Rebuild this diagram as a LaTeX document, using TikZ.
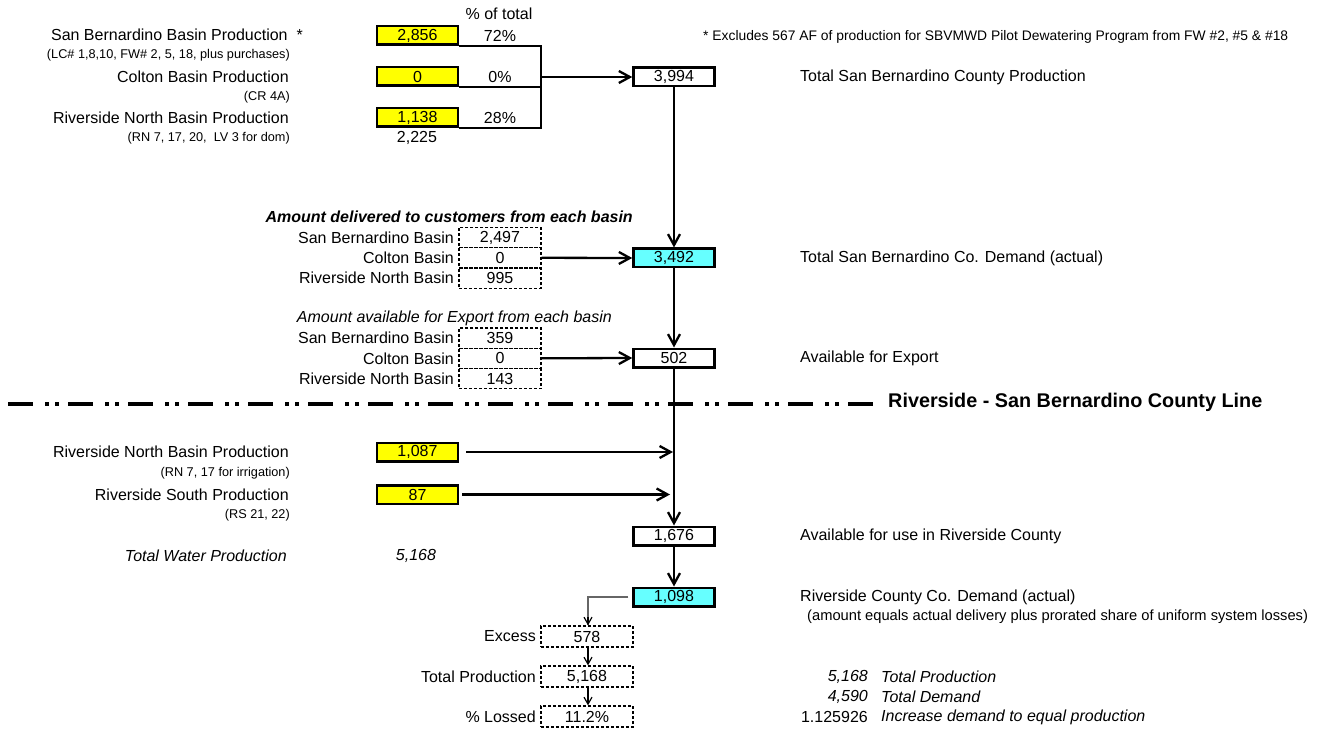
\documentclass[tikz,border=0pt]{standalone}
\usepackage{fontspec}
\setmainfont{Liberation Sans}
\usetikzlibrary{arrows.meta}
\definecolor{cyanfill}{HTML}{66FFFF}
\definecolor{yelfill}{HTML}{FFFF00}
\tikzset{
 base/.style={font=\fontsize{16}{18}\selectfont, inner sep=0pt},
 lbl/.style={base, anchor=east},
 rlbl/.style={base, anchor=west},
 small/.style={font=\fontsize{12.7}{14}\selectfont, inner sep=0pt, anchor=east},
 thickbox/.style={base, draw, line width=2.5pt, minimum width=81pt, minimum height=18.5pt},
 ybox/.style={thickbox, fill=yelfill},
 cbox/.style={thickbox, fill=cyanfill},
 dbox/.style={base, draw, dash pattern=on 3pt off 2pt, line width=1.3pt, minimum width=82pt, minimum height=20.3pt},
 dboxw/.style={dbox, minimum width=92pt, minimum height=21pt},
 arr/.style={line width=2.3pt, -{Straight Barb[length=11pt,width=12pt]}},
 tarr/.style={line width=1.2pt, -{Straight Barb[length=7pt,width=8pt]}},
 brk/.style={line width=2pt},
}
\begin{document}
\begin{tikzpicture}[x=1pt,y=-1pt]
\useasboundingbox (0,0) rectangle (1323,730);
% ---- top section
\node[base] (pct) at (499,14) {\% of total};
\node[lbl] (l1) at (303,35) {San Bernardino Basin Production\ \ *};
\node[small] (s1) at (290,55) {(LC\# 1,8,10, FW\# 2, 5, 18, plus purchases)};
\node[lbl] (l2) at (289,76.5) {Colton Basin Production};
\node[small] (s2) at (290,97) {(CR 4A)};
\node[lbl] (l3) at (289,117.5) {Riverside North Basin Production};
\node[small] (s3) at (290,138) {(RN 7, 17, 20,\ \ LV 3 for dom)};
\node[base] (t2225) at (417,138) {2,225};

\node[ybox] (y1) at (417.5,35.5) {2,856};
\node[ybox] (y2) at (417.5,76.5) {0};
\node[ybox] (y3) at (417.5,117.5) {1,138};
\node[base] (p1) at (500,35.5) {72\%};
\node[base] (p2) at (500,76.5) {0\%};
\node[base] (p3) at (500,117.5) {28\%};

\node[font=\fontsize{13.85}{15}\selectfont, inner sep=0pt, anchor=west] (fn) at (703,37) {* Excludes 567 AF of production for SBVMWD Pilot Dewatering Program from FW \#2, \#5 \& \#18};

\coordinate (bx) at (541,0);
\node[thickbox] (b3994) at (674,77) {3,994};
\node[rlbl] (r1) at (800,77) {Total San Bernardino County Production};

\draw[brk] (y1.south east) -- (y1.south east -| bx) -- (y3.south east -| bx) -- (y3.south east);
\draw[brk] (y2.south east) -- (y2.south east -| bx);
\draw[arr] (b3994.west -| bx) -- (b3994.west);

% ---- delivered
\node[base, anchor=east, font=\fontsize{16}{18}\selectfont\bfseries\itshape] (h1) at (633,217) {Amount delivered to customers from each basin};
\node[dbox] (d1) at (500,237.5) {2,497};
\node[dbox] (d2) at (500,257.8) {0};
\node[dbox] (d3) at (500,278.1) {995};
\node[lbl] (dl1) at (454,237.5) {San Bernardino Basin};
\node[lbl] (dl2) at (454,257.8) {Colton Basin};
\node[lbl] (dl3) at (454,278.1) {Riverside North Basin};
\node[cbox] (b3492) at (674,258) {3,492};
\node[rlbl] (r2) at (800,258) {Total San Bernardino Co. Demand (actual)};
\draw[arr] (d2.east) -- (b3492.west);
\draw[arr] (b3994.south) -- (b3492.north);

% ---- export
\node[base, anchor=east, font=\fontsize{16}{18}\selectfont\itshape] (h2) at (612,318) {Amount available for Export from each basin};
\node[dbox] (e1) at (500,338) {359};
\node[dbox] (e2) at (500,358.3) {0};
\node[dbox] (e3) at (500,378.6) {143};
\node[lbl] (el1) at (454,338) {San Bernardino Basin};
\node[lbl] (el2) at (454,358.3) {Colton Basin};
\node[lbl] (el3) at (454,378.6) {Riverside North Basin};
\node[thickbox] (b502) at (674,358) {502};
\node[rlbl] (r3) at (800,358) {Available for Export};
\draw[arr] (e2.east) -- (b502.west);
\draw[arr] (b3492.south) -- (b502.north);

% ---- county line
\coordinate (cl0) at (8,404);
\coordinate (cl1) at (878,404);
\draw[line width=4pt, dash pattern=on 25pt off 12pt on 3.5pt off 6.5pt on 3.5pt off 9.5pt] (cl0) -- (cl1);
\node[rlbl, font=\fontsize{19.8}{22}\selectfont\bfseries] (clt) at (888,402) {Riverside - San Bernardino County Line};

% ---- riverside
\node[lbl] (l4) at (289,452) {Riverside North Basin Production};
\node[small] (s4) at (290,473.5) {(RN 7, 17 for irrigation)};
\node[lbl] (l5) at (289,494.5) {Riverside South Production};
\node[small] (s5) at (290,515.5) {(RS 21, 22)};
\node[ybox] (y4) at (417.5,452) {1,087};
\node[ybox] (y5) at (417.5,494.5) {87};
\node[lbl, font=\fontsize{16}{18}\selectfont\itshape] (twp) at (287,556) {Total Water Production};
\node[base, font=\fontsize{16}{18}\selectfont\itshape] (twpv) at (416,556) {5,168};

\node[thickbox] (b1676) at (674,536) {1,676};
\node[rlbl] (r4) at (800,536) {Available for use in Riverside County};
\draw[arr] (b502.south) -- (b1676.north);
\coordinate (vl) at (674,0);
\draw[arr, shorten <=7pt, shorten >=1pt] (y4.east) -- (y4.east -| vl);
\draw[arr, shorten <=3pt, shorten >=4pt] (y5.east) -- (y5.east -| vl);

\node[cbox] (b1098) at (674,597) {1,098};
\node[rlbl] (r5) at (800,597) {Riverside County Co. Demand (actual)};
\node[rlbl, font=\fontsize{14.7}{16}\selectfont] (r6) at (807,617) {(amount equals actual delivery plus prorated share of uniform system losses)};
\draw[arr] (b1676.south) -- (b1098.north);

% ---- losses
\node[dboxw] (ex) at (587,636.5) {578};
\node[dboxw] (tp) at (587,676.5) {5,168};
\node[dboxw] (lo) at (587,716.5) {11.2\%};
\node[lbl] (exl) at (536,636.5) {Excess};
\node[lbl] (tpl) at (536,676.5) {Total Production};
\node[lbl] (lol) at (536,716.5) {\% Lossed};
\draw[line width=1.2pt, draw=black!60, shorten <=4pt] (b1098.west) -| ([xshift=1pt]ex.north);
\draw[tarr, shorten <=20pt] ([xshift=1pt]ex.north |- b1098.west) -- ([xshift=1pt]ex.north);
\draw[tarr] ([xshift=1pt]ex.south) -- ([xshift=1pt]tp.north);
\draw[tarr] ([xshift=1pt]tp.south) -- ([xshift=1pt]lo.north);

\node[base, anchor=east, font=\fontsize{16}{18}\selectfont\itshape] (n1) at (868,677) {5,168};
\node[rlbl, font=\fontsize{16}{18}\selectfont\itshape] (n1t) at (881,677) {Total Production};
\node[base, anchor=east, font=\fontsize{16}{18}\selectfont\itshape] (n2) at (868,697) {4,590};
\node[rlbl, font=\fontsize{16}{18}\selectfont\itshape] (n2t) at (881,697) {Total Demand};
\node[base, anchor=east] (n3) at (868,717) {1.125926};
\node[rlbl, font=\fontsize{16}{18}\selectfont\itshape] (n3t) at (881,717) {Increase demand to equal production};
\end{tikzpicture}
\end{document}
